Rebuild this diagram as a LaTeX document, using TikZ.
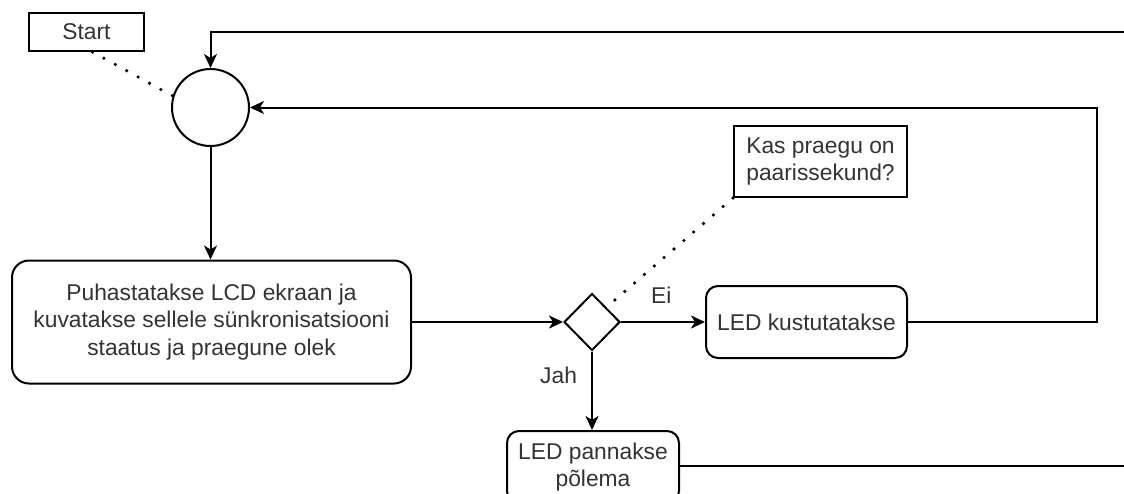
\documentclass[tikz,border=0pt]{standalone}
\usepackage{fontspec}
\setmainfont{Liberation Sans}
\usetikzlibrary{shapes.geometric,arrows.meta}
\begin{document}
\begin{tikzpicture}[x=1pt,y=-1pt,
  every node/.style={font=\fontsize{22.8}{27.5}\selectfont, text=black!80, align=center, inner sep=0pt},
  note/.style={draw, line width=2pt, rectangle},
  stepbox/.style={draw, line width=2pt, rounded corners=12pt},
  link/.style={line width=2pt, -{Stealth[length=14pt,width=13pt,inset=4pt]}},
  plain/.style={line width=2pt},
  dots/.style={line width=3.6pt, line cap=round, dash pattern=on 0pt off 13pt}]
\useasboundingbox (0,0) rectangle (1124,493);

% nodes
\node[note, minimum width=115, minimum height=38] (start) at (86.5,32) {Start};
\node[draw, circle, line width=2pt, minimum size=77] (circ) at (210.5,107.5) {};
\node[stepbox, rounded corners=17pt, minimum width=399, minimum height=123] (main) at (211.5,322)
  {Puhastatakse LCD ekraan ja\\kuvatakse sellele sünkronisatsiooni\\staatus ja praegune olek};
\node[draw, diamond, line width=2pt, minimum width=56, minimum height=57] (dec) at (592,322) {};
\node[stepbox, minimum width=201, minimum height=72] (ledoff) at (806.5,322) {LED kustutatakse};
\node[note, minimum width=173, minimum height=71] (kas) at (820.5,161.5) {Kas praegu on\\paarissekund?};
\node[stepbox, minimum width=172, minimum height=72] (ledon) at (593,467) {LED pannakse\\põlema};

% free ends
\coordinate (topR) at (1135,32);
\coordinate (loop) at (1097,107.5);
\coordinate (botR) at (1135,466);

% connectors
\draw[dots] (start.south) ++(6,0) -- (circ.163);
\draw[dots] (kas.south west) -- (dec.north east);
\draw[link] (topR) -| (circ);
\draw[link] (ledoff.east) -- (ledoff.east -| loop) |- (circ);
\draw[link] (circ.south) -- (circ.south |- main.north);
\draw[link] (main.east) -- (dec.west);
\draw[link] (dec.east) -- node[above=18pt, pos=0.48] (ei) {Ei} (ledoff.west);
\draw[link] (dec.south) -- node[left=14pt, pos=0.3] (jah) {Jah} (dec.south |- ledon.north);
\draw[plain] (ledon.east |- botR) -- (botR);
\end{tikzpicture}
\end{document}
